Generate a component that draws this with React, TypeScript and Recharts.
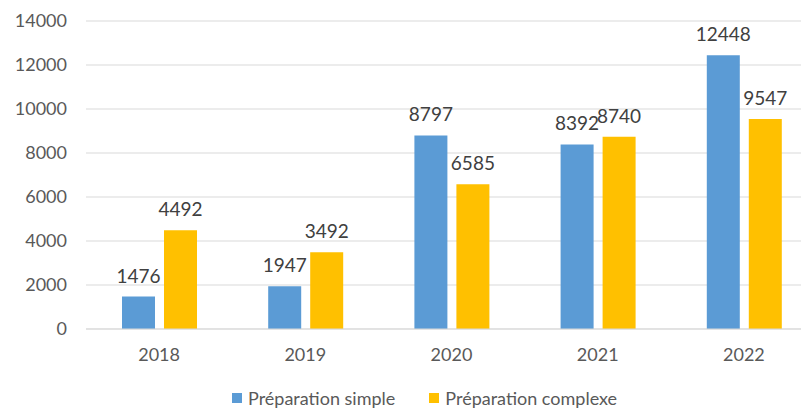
import { BarChart, Bar, XAxis, YAxis, CartesianGrid, Legend, LabelList } from "recharts";

const years = ["2018", "2019", "2020", "2021", "2022"];
const simple = [1476, 1947, 8797, 8392, 12448];
const complexe = [4492, 3492, 6585, 8740, 9547];
const yTicks = [0, 2000, 4000, 6000, 8000, 10000, 12000, 14000];
const seriesNames = ["Préparation simple", "Préparation complexe"];
const seriesColors = ["#5b9bd5", "#ffc000"];

const data = years.map((year, i) => ({
  year,
  simple: simple[i],
  complexe: complexe[i],
}));

const font = "Lato, 'Open Sans', sans-serif";

function LegendContent() {
  return (
    <div style={{ display: "flex", alignItems: "center", fontFamily: font, fontSize: 18, color: "#595959" }}>
      {seriesNames.map((name, i) => (
        <div key={name} style={{ display: "flex", alignItems: "center", marginRight: 34 }}>
          <span style={{ display: "inline-block", width: 10, height: 10, background: seriesColors[i], marginRight: 6 }} />
          <span>{name}</span>
        </div>
      ))}
    </div>
  );
}

export default function App() {
  return (
    <div
      style={{
        position: "absolute",
        left: 0,
        top: 0,
        width: 801,
        height: 409,
        overflow: "hidden",
        background: "#fff",
        fontFamily: font,
      }}
    >
      <BarChart
        width={817}
        height={409}
        data={data}
        margin={{ top: 21, right: 0, bottom: 0, left: 0 }}
        barCategoryGap={35}
        barGap={9}
      >
        <CartesianGrid vertical={false} stroke="#d9d9d9" />
        <XAxis
          dataKey="year"
          height={80}
          tickLine={false}
          axisLine={{ stroke: "#d9d9d9" }}
          tickSize={0}
          tickMargin={19}
          tick={{ fill: "#595959", fontSize: 18, fontFamily: font }}
        />
        <YAxis
          width={86}
          domain={[0, 14000]}
          ticks={yTicks}
          axisLine={false}
          tickLine={false}
          tickSize={0}
          tickMargin={19}
          tick={{ fill: "#595959", fontSize: 18, fontFamily: font }}
        />
        <Legend
          layout="horizontal"
          verticalAlign="middle"
          align="center"
          content={<LegendContent />}
          wrapperStyle={{ position: "absolute", left: 232, top: 387, width: 450, height: 24 }}
        />
        <Bar dataKey="simple" name={seriesNames[0]} fill={seriesColors[0]} barSize={33} isAnimationActive={false}>
          <LabelList dataKey="simple" position="top" offset={14} fill="#404040" fontSize={19} fontFamily={font} />
        </Bar>
        <Bar dataKey="complexe" name={seriesNames[1]} fill={seriesColors[1]} barSize={33} isAnimationActive={false}>
          <LabelList dataKey="complexe" position="top" offset={14} fill="#404040" fontSize={19} fontFamily={font} />
        </Bar>
      </BarChart>
    </div>
  );
}
